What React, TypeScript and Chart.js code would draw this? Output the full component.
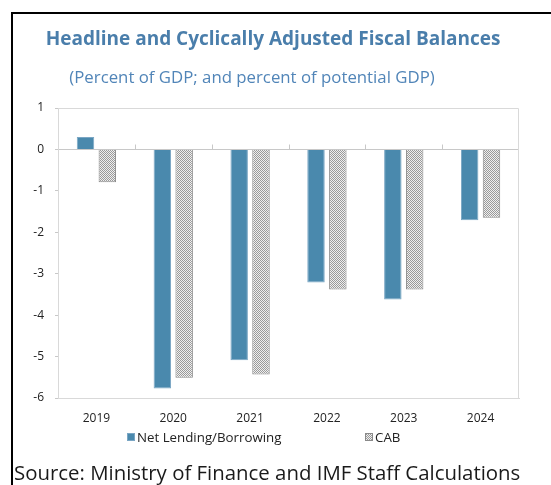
import React, { useEffect, useRef } from "react";
import { Chart, registerables } from "chart.js";

Chart.register(...registerables);

const years = ["2019", "2020", "2021", "2022", "2023", "2024"];
const netLending = [0.3, -5.77, -5.09, -3.21, -3.62, -1.71];
const cab = [-0.79, -5.51, -5.43, -3.38, -3.38, -1.65];
const seriesNames = ["Net Lending/Borrowing", "CAB"];
const titleText = "Headline and Cyclically Adjusted Fiscal Balances";
const subtitleText = "(Percent of GDP; and percent of potential GDP)";
const sourceText = "Source: Ministry of Finance and IMF Staff Calculations";
const yMin = -6;
const yMax = 1;

const BLUE = "#4a89ad";
const FONT = "'Open Sans', 'Noto Sans', sans-serif";

function makePattern(): CanvasPattern | string {
  const c = document.createElement("canvas");
  c.width = 4;
  c.height = 4;
  const g = c.getContext("2d");
  if (!g) return "#c8c8c8";
  g.fillStyle = "#efefef";
  g.fillRect(0, 0, 4, 4);
  g.fillStyle = "#9a9a9a";
  for (let y = 0; y < 4; y++) {
    for (let x = 0; x < 4; x++) {
      if ((x + y) % 2 === 0) g.fillRect(x, y, 1, 1);
    }
  }
  const p = g.createPattern(c, "repeat");
  return p || "#c8c8c8";
}

export default function App() {
  const ref = useRef<HTMLCanvasElement | null>(null);

  useEffect(() => {
    const canvas = ref.current;
    if (!canvas) return;
    const pattern = makePattern();

    const decor = {
      id: "decor",
      afterDraw(chart: any) {
        const ctx = chart.ctx;
        const area = chart.chartArea;
        const xs = chart.scales.x;
        const ys = chart.scales.y;
        ctx.save();
        // plot frame
        ctx.strokeStyle = "#d9d9d9";
        ctx.lineWidth = 1;
        ctx.beginPath();
        ctx.moveTo(area.left, area.top + 0.5);
        ctx.lineTo(area.right - 0.5, area.top + 0.5);
        ctx.lineTo(area.right - 0.5, area.bottom);
        ctx.stroke();
        // category tick marks on the zero line
        const y0 = Math.round(ys.getPixelForValue(0)) + 0.5;
        ctx.strokeStyle = "#c8c8c8";
        ctx.beginPath();
        for (let i = 0; i < years.length - 1; i++) {
          const xb = Math.round((xs.getPixelForTick(i) + xs.getPixelForTick(i + 1)) / 2) + 0.5;
          ctx.moveTo(xb, y0);
          ctx.lineTo(xb, y0 - 5);
        }
        ctx.stroke();

        // titles
        ctx.textBaseline = "middle";
        ctx.textAlign = "center";
        ctx.fillStyle = "#4a7eab";
        ctx.font = `bold 19px ${FONT}`;
        ctx.fillText(titleText, 273, 40);
        ctx.fillStyle = "#5185b8";
        ctx.font = `16.8px ${FONT}`;
        ctx.fillText(subtitleText, 252, 78);

        // legend
        ctx.textAlign = "left";
        ctx.font = `13.3px ${FONT}`;
        const ly = 437;
        const items = [
          { x: 127, fill: BLUE, stroke: "#7aa6c4", label: seriesNames[0] },
          { x: 365, fill: pattern, stroke: "#8a8a8a", label: seriesNames[1] },
        ];
        items.forEach((it) => {
          ctx.fillStyle = it.fill as any;
          ctx.fillRect(it.x, ly - 4, 8, 8);
          ctx.strokeStyle = it.stroke;
          ctx.strokeRect(it.x + 0.5, ly - 3.5, 7, 7);
          ctx.fillStyle = "#222";
          ctx.fillText(it.label, it.x + 10, ly + 1);
        });

        // source
        ctx.font = `20.4px ${FONT}`;
        ctx.fillStyle = "#1a1a1a";
        ctx.fillText(sourceText, 14, 474);
        ctx.restore();
      },
    };

    const chart = new Chart(canvas, {
      type: "bar",
      data: {
        labels: years,
        datasets: [
          {
            label: seriesNames[0],
            data: netLending,
            backgroundColor: BLUE,
            borderColor: "#7aa6c4",
            borderWidth: 1,
            barPercentage: 0.8,
            categoryPercentage: 0.568,
          },
          {
            label: seriesNames[1],
            data: cab,
            backgroundColor: pattern as any,
            borderColor: "#8a8a8a",
            borderWidth: 1,
            barPercentage: 0.8,
            categoryPercentage: 0.568,
          },
        ],
      },
      options: {
        responsive: false,
        animation: false,
        layout: { padding: { left: 0, top: 108, right: 32, bottom: 57 } },
        plugins: {
          legend: { display: false },
          title: { display: false },
          tooltip: { enabled: false },
        },
        scales: {
          x: {
            grid: { display: false, drawTicks: false },
            border: { display: true, color: "#d9d9d9" },
            ticks: {
              padding: 13,
              color: "#222",
              font: { family: FONT, size: 12 },
            },
            afterFit(scale: any) {
              scale.height = 30;
            },
          },
          y: {
            min: yMin,
            max: yMax,
            border: { display: true, color: "#d9d9d9" },
            grid: {
              drawOnChartArea: true,
              color: (c: any) => (c.tick && c.tick.value === 0 ? "#c8c8c8" : "rgba(0,0,0,0)"),
              tickColor: "#c8c8c8",
              tickLength: 3,
            },
            ticks: {
              stepSize: 1,
              padding: 11,
              color: "#222",
              font: { family: FONT, size: 12 },
            },
            afterFit(scale: any) {
              scale.width = 58;
            },
          },
        },
      },
      plugins: [decor],
    });
    return () => chart.destroy();
  }, []);

  return (
    <div
      style={{
        position: "absolute",
        left: 0,
        top: 0,
        width: 551,
        height: 485,
        overflow: "hidden",
        background: "#fff",
      }}
    >
      <div
        style={{
          position: "absolute",
          left: 11,
          top: 12,
          width: 700,
          height: 700,
          borderLeft: "2px solid #000",
          borderTop: "2px solid #000",
        }}
      />
      <canvas
        ref={ref}
        width={551}
        height={485}
        style={{ position: "absolute", left: 0, top: 0, width: 551, height: 485 }}
      />
    </div>
  );
}
